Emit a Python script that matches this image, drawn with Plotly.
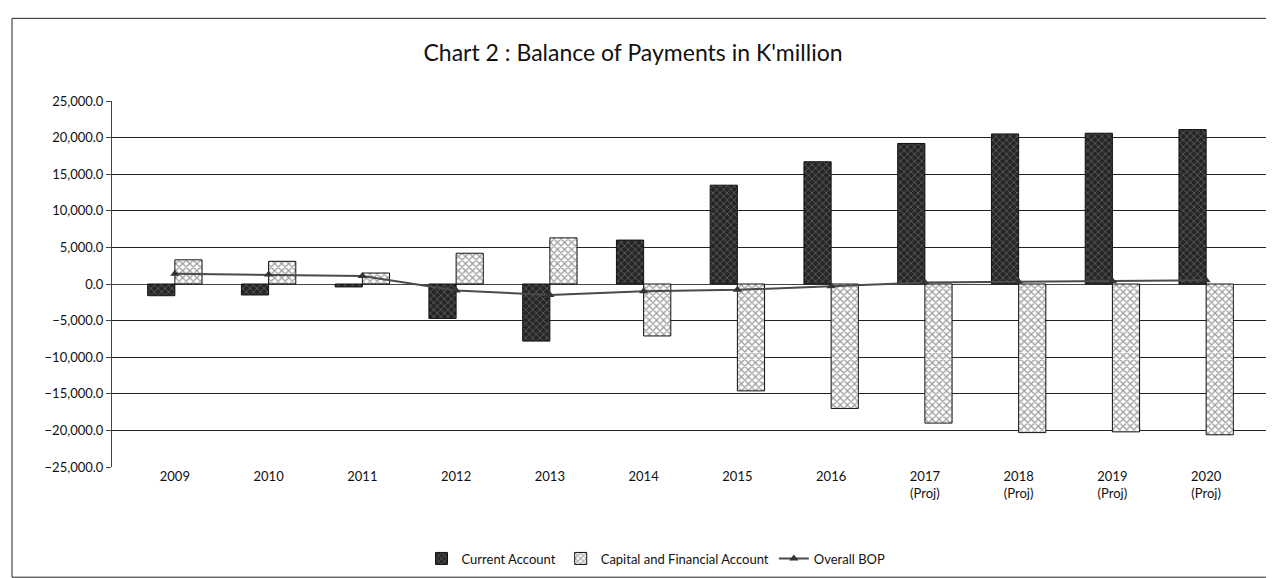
import plotly.graph_objects as go

years = ["2009", "2010", "2011", "2012", "2013", "2014", "2015", "2016",
         "2017<br>(Proj)", "2018<br>(Proj)", "2019<br>(Proj)", "2020<br>(Proj)"]
current_account = [-1600, -1500, -400, -4700, -7800, 6000, 13500, 16700,
                   19200, 20500, 20600, 21100]
capital_financial = [3300, 3100, 1500, 4200, 6300, -7100, -14600, -17000,
                     -19000, -20300, -20200, -20600]
overall_bop = [1400, 1300, 1100, -900, -1500, -1000, -800, -300,
               200, 300, 400, 500]
y_ticks = [-25000, -20000, -15000, -10000, -5000, 0, 5000, 10000, 15000, 20000, 25000]

FONT = "Lato, 'Liberation Sans', Arial, sans-serif"
W, H = 1274, 578
L, R, T, B = 104, 13, 93, 113
pw, ph = W - L - R, H - T - B

fig = go.Figure()
fig.add_trace(go.Bar(
    name="Current Account", x=years, y=current_account,
    marker=dict(color="#262626", line=dict(color="#111", width=1),
                pattern=dict(shape="x", bgcolor="#262626", fgcolor="#d9d9d9",
                             size=5, solidity=0.2, fillmode="overlay")),
))
fig.add_trace(go.Bar(
    name="Capital and Financial Account", x=years, y=capital_financial,
    marker=dict(color="white", line=dict(color="#111", width=1),
                pattern=dict(shape="x", bgcolor="white", fgcolor="#3a3a3a",
                             size=5, solidity=0.45, fillmode="overlay")),
))
fig.add_trace(go.Scatter(
    name="Overall BOP", x=years, y=overall_bop, mode="lines+markers",
    line=dict(color="#4a4a4a", width=2),
    marker=dict(symbol="triangle-up", size=8, color="#333"),
))

# outer chart frame
fig.add_shape(type="rect", xref="paper", yref="paper",
              x0=(4 - L) / pw, x1=(W - 2 - L) / pw,
              y0=-(H - 1 - T - ph) / ph, y1=1 + (T - 9) / ph,
              line=dict(color="#222", width=1), layer="below")

fig.update_layout(
    width=W, height=H,
    margin=dict(l=L, r=R, t=T, b=B),
    paper_bgcolor="white", plot_bgcolor="white",
    font=dict(family=FONT, size=13, color="#111"),
    title=dict(text="Chart 2 : Balance of Payments in K'million",
               x=625 / W, xanchor="center", y=1 - 45 / H, yanchor="middle",
               font=dict(family=FONT, size=23, color="#111")),
    barmode="group", bargap=0.42, bargroupgap=0,
    showlegend=True,
    legend=dict(orientation="h", x=(648 - L) / pw, xanchor="center",
                y=-(558 - T - ph) / ph, yanchor="middle",
                font=dict(size=13), itemwidth=30, traceorder="normal"),
)
fig.update_xaxes(showgrid=False, showline=False, ticks="", tickfont=dict(size=13))
fig.update_yaxes(range=[-25000, 25000], tickvals=y_ticks, tickformat=",.1f",
                 showgrid=True, gridcolor="#222", gridwidth=1,
                 zeroline=True, zerolinecolor="#444", zerolinewidth=1,
                 showline=True, linecolor="#444", linewidth=1,
                 ticks="outside", ticklen=5, tickcolor="#444",
                 tickfont=dict(size=13))

fig.write_html("out.html")
